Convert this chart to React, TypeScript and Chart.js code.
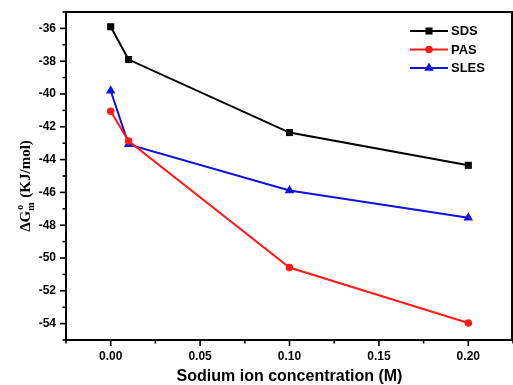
import React, { useEffect, useRef } from "react";
import { Chart, registerables } from "chart.js";

Chart.register(...registerables);

const concentrations = [0, 0.01, 0.1, 0.2];
const sdsValues = [-35.9, -37.9, -42.35, -44.35];
const pasValues = [-41.05, -42.87, -50.58, -53.96];
const slesValues = [-39.8, -43.07, -45.88, -47.55];
const seriesNames = ["SDS", "PAS", "SLES"];
const xTickLabels = [0, 0.05, 0.1, 0.15, 0.2];
const yTickLabels = [-54, -52, -50, -48, -46, -44, -42, -40, -38, -36];

const SANS = "'Liberation Sans', Arial, sans-serif";
const SERIF = "'Liberation Serif', 'Times New Roman', serif";

const toPoints = (vals: number[]) => vals.map((v, i) => ({ x: concentrations[i], y: v }));

function drawMarker(ctx: CanvasRenderingContext2D, style: string, x: number, y: number, r: number, color: string) {
  ctx.fillStyle = color;
  ctx.beginPath();
  if (style === "rect") {
    const s = Math.SQRT1_2 * r;
    ctx.rect(x - s, y - s, 2 * s, 2 * s);
  } else if (style === "circle") {
    ctx.arc(x, y, r, 0, Math.PI * 2);
  } else {
    const rad = -Math.PI / 2;
    ctx.moveTo(x + Math.cos(rad) * r, y + Math.sin(rad) * r);
    ctx.lineTo(x + Math.cos(rad + (2 * Math.PI) / 3) * r, y + Math.sin(rad + (2 * Math.PI) / 3) * r);
    ctx.lineTo(x + Math.cos(rad + (4 * Math.PI) / 3) * r, y + Math.sin(rad + (4 * Math.PI) / 3) * r);
    ctx.closePath();
  }
  ctx.fill();
}

const framePlugin = {
  id: "frameAndTicks",
  afterDraw(chart: any) {
    const { ctx, chartArea } = chart;
    const xs = chart.scales.x;
    const ys = chart.scales.y;
    ctx.save();
    ctx.strokeStyle = "#000";
    ctx.lineWidth = 2;
    ctx.strokeRect(chartArea.left, chartArea.top, chartArea.right - chartArea.left - 1, chartArea.bottom - chartArea.top);
    ctx.lineWidth = 1.6;
    for (let i = 0; i <= 10; i++) {
      const v = -0.025 + i * 0.025;
      const px = xs.getPixelForValue(v);
      const len = i % 2 === 1 ? 6 : 3.5;
      ctx.beginPath();
      ctx.moveTo(px, chartArea.bottom);
      ctx.lineTo(px, chartArea.bottom + len);
      ctx.stroke();
    }
    for (let v = -55; v <= -35; v++) {
      const py = ys.getPixelForValue(v);
      const len = v % 2 === 0 ? 6 : 3.5;
      ctx.beginPath();
      ctx.moveTo(chartArea.left, py);
      ctx.lineTo(chartArea.left - len, py);
      ctx.stroke();
    }
    // y title
    ctx.translate(25, (chartArea.top + chartArea.bottom) / 2 + 10);
    ctx.rotate(-Math.PI / 2);
    ctx.fillStyle = "#000";
    ctx.textBaseline = "alphabetic";
    const mainFont = `bold 15px ${SERIF}`;
    const smallFont = `bold 10px ${SERIF}`;
    ctx.font = mainFont;
    const w1 = ctx.measureText("\u0394G").width;
    const w3 = ctx.measureText(" (KJ/mol)").width;
    ctx.font = smallFont;
    const w2 = ctx.measureText("m").width + 1;
    const total = w1 + w2 + w3;
    let x0 = -total / 2;
    const base = 5;
    ctx.font = mainFont;
    ctx.fillText("\u0394G", x0, base);
    x0 += w1;
    ctx.font = smallFont;
    ctx.fillText("o", x0 + 1, base - 7);
    ctx.fillText("m", x0, base + 4);
    x0 += w2;
    ctx.font = mainFont;
    ctx.fillText(" (KJ/mol)", x0, base);
    ctx.restore();

    // legend
    ctx.save();
    chart.data.datasets.forEach((ds: any, i: number) => {
      const y = 31 + i * 18.5;
      ctx.strokeStyle = ds.borderColor;
      ctx.lineWidth = 2;
      ctx.beginPath();
      ctx.moveTo(410, y);
      ctx.lineTo(448, y);
      ctx.stroke();
      drawMarker(ctx, ds.pointStyle, 429, y, ds.pointRadius, ds.borderColor);
      ctx.fillStyle = "#000";
      ctx.font = `bold 13px ${SANS}`;
      ctx.textBaseline = "middle";
      ctx.textAlign = "left";
      ctx.fillText(ds.label, 451, y + 0.5);
    });
    ctx.restore();
  },
};

export default function App() {
  const ref = useRef<HTMLCanvasElement | null>(null);
  useEffect(() => {
    if (!ref.current) return;
    const colors = ["#000000", "#ff1a1a", "#1010e0"];
    const styles = ["rect", "circle", "triangle"];
    const radii = [5, 3.8, 5.5];
    const allValues = [sdsValues, pasValues, slesValues];
    const chart = new Chart(ref.current, {
      type: "line",
      data: {
        datasets: allValues.map((vals, i) => ({
          label: seriesNames[i],
          data: toPoints(vals),
          borderColor: colors[i],
          backgroundColor: colors[i],
          pointBackgroundColor: colors[i],
          pointBorderColor: colors[i],
          pointBorderWidth: 0,
          pointStyle: styles[i],
          pointRadius: radii[i],
          borderWidth: 2,
          tension: 0,
        })),
      },
      options: {
        animation: false,
        responsive: false,
        devicePixelRatio: 1,
        layout: { autoPadding: false, padding: { top: 12, right: 0, left: 0, bottom: 0 } },
        plugins: { legend: { display: false }, tooltip: { enabled: false } },
        scales: {
          x: {
            type: "linear",
            min: -0.025,
            max: 0.225,
            afterBuildTicks: (scale: any) => {
              scale.ticks = xTickLabels.map((v) => ({ value: v }));
            },
            afterFit: (scale: any) => {
              scale.height = 45;
              scale.paddingLeft = 0;
              scale.paddingRight = 0;
            },
            grid: { display: false, drawTicks: true, tickLength: 6 },
            border: { display: false },
            ticks: {
              color: "#000",
              padding: 3,
              maxRotation: 0,
              font: { family: SANS, size: 12, weight: "bold" },
              callback: (v: any) => Number(v).toFixed(2),
            },
            title: {
              display: true,
              text: "Sodium ion concentration (M)",
              color: "#000",
              padding: { top: 0, bottom: 0 },
              font: { family: SANS, size: 16, weight: "bold", lineHeight: 1 },
            },
          },
          y: {
            type: "linear",
            min: -55,
            max: -35,
            afterBuildTicks: (scale: any) => {
              scale.ticks = yTickLabels.map((v) => ({ value: v }));
            },
            afterFit: (scale: any) => {
              scale.width = 66;
              scale.paddingTop = 0;
              scale.paddingBottom = 0;
            },
            grid: { display: false, drawTicks: true, tickLength: 6 },
            border: { display: false },
            ticks: {
              color: "#000",
              padding: 4,
              font: { family: SANS, size: 12, weight: "bold" },
              callback: (v: any) => String(v),
            },
          },
        },
      },
      plugins: [framePlugin],
    } as any);
    return () => chart.destroy();
  }, []);
  return (
    <div style={{ position: "fixed", left: 0, top: 0, width: 513, height: 385, background: "#fff" }}>
      <canvas ref={ref} width={513} height={385} style={{ display: "block", width: 513, height: 385 }} />
    </div>
  );
}
